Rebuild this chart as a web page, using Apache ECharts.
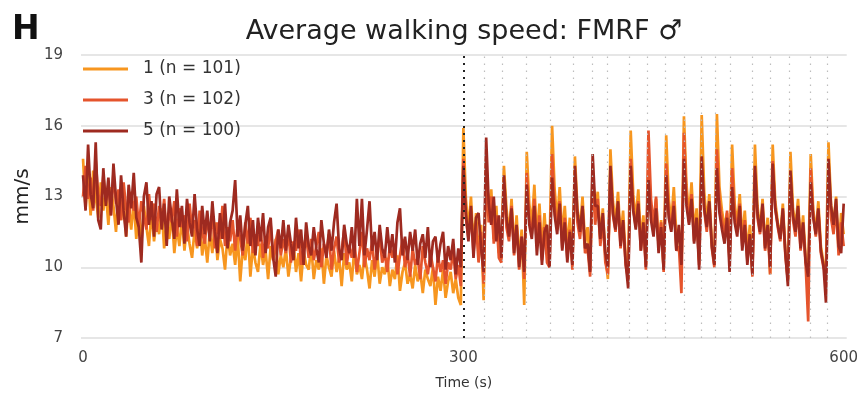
<!DOCTYPE html>
<html>
<head>
<meta charset="utf-8">
<script src="https://cdn.jsdelivr.net/npm/echarts@6/dist/echarts.min.js"></script>
<style>
  html, body { margin: 0; padding: 0; background: #fff; }
  #chart { width: 861px; height: 397px; }
</style>
</head>
<body>
<div id="chart"></div>
<script>
// Average walking speed (mm/s), sampled every 2 s from 0 to 600 s.
const timeStep = 2;
const seriesNames = ['1 (n = 101)', '3 (n = 102)', '5 (n = 100)'];
const seriesColors = ['#f7961f', '#e5542c', '#9e2a20'];

const speed1 = [
  14.6,12.5,13.9,12.2,14.1,13.0,12.1,13.6,12.4,13.2,
  11.8,13.4,12.6,11.5,13.1,12.0,12.9,11.3,12.7,11.6,
  12.8,11.2,12.3,11.0,12.6,11.7,10.9,12.4,11.1,12.0,
  11.4,12.5,10.8,11.9,11.2,12.3,10.6,11.7,10.9,12.1,
  10.7,11.8,11.0,10.4,11.6,10.8,12.0,10.5,11.3,10.2,
  11.5,10.6,11.9,10.3,11.2,10.8,9.9,11.4,10.5,11.0,
  10.1,11.3,9.4,10.8,10.3,11.5,9.6,10.9,10.2,9.8,
  11.0,10.1,10.7,9.5,10.9,10.3,11.2,9.7,10.5,10.0,
  10.8,9.6,10.4,11.0,9.8,10.6,9.4,10.7,10.1,9.9,
  10.9,9.5,10.3,9.9,10.8,9.3,10.5,10.0,9.6,10.7,
  9.8,10.4,9.2,10.6,9.9,10.2,9.4,10.8,9.7,10.1,
  9.5,10.5,9.9,9.1,10.3,9.6,10.6,9.3,10.0,9.7,
  10.4,9.2,9.9,9.5,10.5,9.0,9.8,10.2,9.3,9.7,
  9.1,10.1,9.4,9.8,8.9,9.9,9.5,9.2,10.0,8.4,
  9.6,9.0,9.9,8.7,9.4,9.8,8.9,9.5,8.7,8.4,
  15.9,12.9,11.6,13.0,10.9,12.3,10.5,11.8,8.6,
  14.6,12.2,13.3,11.2,12.6,10.6,10.9,
  14.3,12.5,11.4,12.9,10.8,12.2,10.3,11.6,8.4,
  14.9,12.7,11.8,13.5,11.2,12.7,10.7,12.3,10.5,10.8,
  16.0,13.3,12.0,13.4,11.3,12.6,10.8,12.1,10.2,
  14.7,12.5,11.6,13.0,11.0,11.7,9.9,
  14.2,12.3,13.2,11.3,12.5,10.5,9.5,
  15.0,12.8,11.9,13.2,11.2,12.4,10.4,10.1,
  15.8,13.1,12.0,13.3,11.1,12.2,10.1,
  14.6,12.4,11.6,12.9,10.9,12.0,9.9,
  15.6,12.9,11.9,13.4,11.4,11.6,9.8,
  16.4,13.5,12.2,13.6,11.5,12.5,10.3,
  16.45,13.2,11.9,13.1,11.1,10.1,
  16.5,13.4,12.4,11.7,12.3,10.4,
  15.2,12.7,11.8,13.1,11.2,12.4,10.6,11.8,9.8,
  15.2,12.6,11.6,12.9,10.9,12.1,9.7,
  15.2,12.8,11.9,11.3,12.7,10.7,9.5,
  14.9,12.5,11.7,12.9,11.0,12.2,10.4,9.8,
  14.8,12.4,11.5,12.8,10.9,10.2,10.0,
  15.3,12.7,11.8,13.0,10.7,12.3,11.4
];

const speed3 = [
  13.0,14.3,12.9,13.8,12.4,14.5,13.1,12.6,13.9,12.8,
  13.5,12.2,14.0,12.7,13.3,12.0,13.6,12.5,11.9,13.2,
  12.4,13.0,11.7,12.8,12.2,11.6,13.1,12.0,12.7,11.5,
  12.6,11.8,12.9,11.4,12.3,11.9,12.8,11.3,12.5,11.7,
  12.2,11.1,12.7,11.6,12.0,10.9,12.4,11.5,11.0,12.1,
  11.3,12.3,10.8,11.9,11.2,12.6,10.9,11.7,11.1,12.0,
  10.7,11.8,11.2,10.5,11.9,11.0,12.1,10.6,11.4,10.9,
  11.7,10.4,11.3,10.8,11.8,10.3,11.1,11.6,10.5,11.2,
  10.6,11.5,10.2,11.1,10.7,11.6,10.1,10.9,11.3,10.4,
  11.2,10.3,10.9,11.5,10.0,11.0,10.6,11.4,9.9,10.8,
  11.3,10.2,10.7,11.6,10.1,10.9,10.4,11.2,9.8,10.6,
  11.5,10.0,10.8,10.3,11.1,9.9,10.7,11.3,10.2,10.6,
  9.8,10.9,10.4,11.0,9.7,10.5,11.2,10.0,10.6,9.6,
  10.8,10.1,10.4,9.5,10.9,10.2,9.7,10.6,10.0,9.4,
  10.5,9.8,10.3,9.3,10.2,9.9,10.7,9.5,10.1,9.2,
  14.6,12.1,11.2,12.4,10.6,11.9,10.2,11.5,9.3,
  14.0,11.9,13.0,11.0,12.2,10.4,10.2,
  13.6,11.7,11.1,12.6,10.5,11.8,9.9,11.3,9.5,
  14.0,12.0,11.4,12.9,10.9,12.2,10.3,11.7,10.2,10.0,
  14.8,12.6,11.6,12.8,10.8,12.1,10.4,11.6,9.9,
  13.8,11.9,11.2,12.4,10.6,10.8,9.6,
  13.9,11.8,12.9,10.9,12.0,10.2,9.7,
  14.1,12.2,11.5,12.7,10.8,11.9,10.1,9.5,
  14.6,12.5,11.7,12.8,10.7,11.8,9.9,
  15.8,12.9,11.8,13.0,10.9,11.9,9.8,
  14.4,12.3,11.6,12.8,10.7,10.9,8.9,
  15.7,13.0,11.9,13.1,11.1,12.1,10.1,
  14.2,12.4,11.5,12.7,10.8,10.0,
  15.0,12.8,12.0,11.3,12.4,10.2,
  14.2,12.3,11.5,12.7,10.9,12.0,10.3,11.4,9.6,
  14.0,12.1,11.4,12.5,10.7,11.7,9.7,
  14.5,12.5,11.7,11.1,12.4,10.5,9.4,
  13.8,12.0,11.3,12.5,10.7,11.8,10.1,7.7,
  14.2,12.2,11.3,12.4,10.6,10.0,9.7,
  14.0,12.1,11.4,12.6,10.5,11.9,10.9
];

const speed5 = [
  13.9,12.4,15.2,13.1,12.5,15.3,12.0,11.6,14.2,12.6,
  13.8,12.2,14.4,12.9,11.8,13.9,12.4,11.3,13.5,12.5,
  14.0,12.1,11.7,10.2,13.0,13.6,11.8,12.8,11.3,13.1,
  13.4,11.6,12.7,10.9,13.0,12.1,11.2,13.3,11.7,12.6,
  11.0,12.9,11.9,11.3,13.1,11.6,10.9,12.6,11.4,12.4,
  11.1,12.8,11.5,10.6,12.3,11.2,12.7,10.8,11.9,12.4,
  13.7,11.3,12.2,10.7,11.8,12.6,10.9,12.0,10.5,12.1,
  11.1,12.3,10.6,11.7,12.1,10.4,9.6,11.6,10.8,12.0,
  10.7,11.8,11.0,10.3,12.1,10.8,11.6,10.1,11.9,10.9,
  10.5,11.7,10.8,10.2,12.0,11.0,10.4,11.6,10.7,11.9,
  12.7,10.8,10.3,11.8,11.0,10.6,11.7,10.4,12.9,10.9,
  12.9,10.5,11.6,12.8,10.7,11.5,10.3,11.8,10.8,10.4,
  11.7,10.6,11.4,10.2,11.9,12.5,10.5,11.3,10.3,11.5,
  10.7,11.6,10.1,11.0,11.4,10.4,11.7,10.0,11.1,11.3,
  10.2,11.0,11.5,9.9,10.9,10.3,11.2,9.7,10.8,10.0,
  14.3,12.3,11.1,12.6,10.4,12.1,12.3,10.8,9.8,
  15.5,12.7,11.8,13.0,11.1,12.2,10.4,
  13.9,12.1,11.3,12.5,10.6,11.8,10.0,11.3,9.8,
  13.5,11.8,11.2,12.6,10.5,11.9,10.1,11.5,11.8,10.0,
  13.8,12.2,11.4,12.7,10.7,11.9,10.2,11.5,10.1,
  14.3,12.3,11.5,12.6,10.8,11.0,9.8,
  14.8,12.6,12.6,11.2,12.3,10.6,10.0,
  14.3,12.3,11.6,12.8,10.9,12.0,10.2,9.1,
  14.3,12.4,11.6,12.7,10.7,11.9,10.0,
  13.7,12.0,11.3,12.5,10.6,11.7,9.9,
  13.9,12.1,11.5,12.6,10.7,11.8,10.1,
  14.6,12.6,11.8,12.9,11.0,12.1,9.9,
  14.7,12.5,11.7,12.8,10.9,10.1,
  14.2,12.3,11.6,11.0,12.1,9.8,
  13.4,11.9,11.3,12.6,10.7,11.8,10.1,11.4,9.7,
  14.3,12.3,11.5,12.7,10.8,11.8,10.0,
  14.4,12.5,11.8,11.2,12.5,10.6,9.2,
  14.1,12.2,11.5,12.6,10.8,11.9,10.2,9.6,
  13.6,12.1,11.4,12.5,10.7,10.1,8.5,
  14.6,12.6,11.8,12.9,10.9,10.6,12.7
];

// Onset of the stimulation phase, and the pulse times that follow it (s).
const stimOnset = 300;
const pulseTimes = [316.5, 331, 350, 368.5, 387, 402, 413.6, 430.7, 445, 459.6,
                    474, 488, 498.4, 510.8, 527.8, 542.3, 556.7, 573.8, 586.9];

const xTicks = [0, 300, 600];
const yTicks = [7, 10, 13, 16, 19];

const FONT = 'DejaVu Sans';

function toPairs(values) {
  return values.map((v, i) => [i * timeStep, v]);
}

const markLines = [{ xAxis: stimOnset, lineStyle: { color: '#222', width: 2, type: [2, 5] } }]
  .concat(pulseTimes.map(t => ({ xAxis: t, lineStyle: { color: '#bdbdbd', width: 1.2, type: [1.5, 5.5] } })));

const chart = echarts.init(document.getElementById('chart'), null, { renderer: 'canvas' });

chart.setOption({
  animation: false,
  backgroundColor: '#fff',
  graphic: [
    { type: 'text', left: 12, top: 14,
      style: { text: 'H', font: 'bold 33px "DejaVu Sans"', fill: '#111' } },
    { type: 'text', x: 464, y: 32,
      style: { text: 'Average walking speed: FMRF \u2642', font: '27px "DejaVu Sans"', fill: '#222',
               textAlign: 'center', textVerticalAlign: 'middle' } }
  ],
  legend: {
    data: seriesNames,
    orient: 'vertical',
    left: 83, top: 59,
    padding: 0,
    icon: 'rect',
    itemWidth: 45, itemHeight: 3,
    itemGap: 11,
    textStyle: { fontFamily: FONT, fontSize: 17, color: '#333', lineHeight: 20, padding: [0, 0, 0, 10] }
  },
  grid: { left: 81, right: 13, top: 55, bottom: 59, containLabel: false },
  xAxis: {
    type: 'value', min: -1.6, max: 602.4,
    name: 'Time (s)', nameLocation: 'middle', nameGap: 38,
    nameTextStyle: { fontFamily: FONT, fontSize: 14, color: '#333' },
    axisLine: { show: false }, axisTick: { show: false },
    splitLine: { show: false },
    axisLabel: { customValues: xTicks, fontFamily: FONT, fontSize: 15, color: '#444', margin: 13 }
  },
  yAxis: {
    type: 'value', min: 7, max: 19,
    name: 'mm/s', nameLocation: 'middle', nameGap: 46,
    nameTextStyle: { fontFamily: FONT, fontSize: 20, color: '#222' },
    axisLine: { show: false },
    axisTick: { show: false, customValues: yTicks },
    axisLabel: { customValues: yTicks, fontFamily: FONT, fontSize: 15, color: '#444', margin: 18 },
    splitLine: { show: true, lineStyle: { color: '#e6e6e6', width: 2 } }
  },
  series: [
    {
      name: 'pulses', type: 'line', data: [], silent: true,
      markLine: { silent: true, symbol: 'none', label: { show: false }, data: markLines, animation: false }
    },
    { name: seriesNames[0], type: 'line', data: toPairs(speed1), showSymbol: false,
      lineStyle: { color: seriesColors[0], width: 2.7 }, itemStyle: { color: seriesColors[0] } },
    { name: seriesNames[1], type: 'line', data: toPairs(speed3), showSymbol: false,
      lineStyle: { color: seriesColors[1], width: 2.7 }, itemStyle: { color: seriesColors[1] } },
    { name: seriesNames[2], type: 'line', data: toPairs(speed5), showSymbol: false,
      lineStyle: { color: seriesColors[2], width: 2.7 }, itemStyle: { color: seriesColors[2] } }
  ]
});
</script>
</body>
</html>
